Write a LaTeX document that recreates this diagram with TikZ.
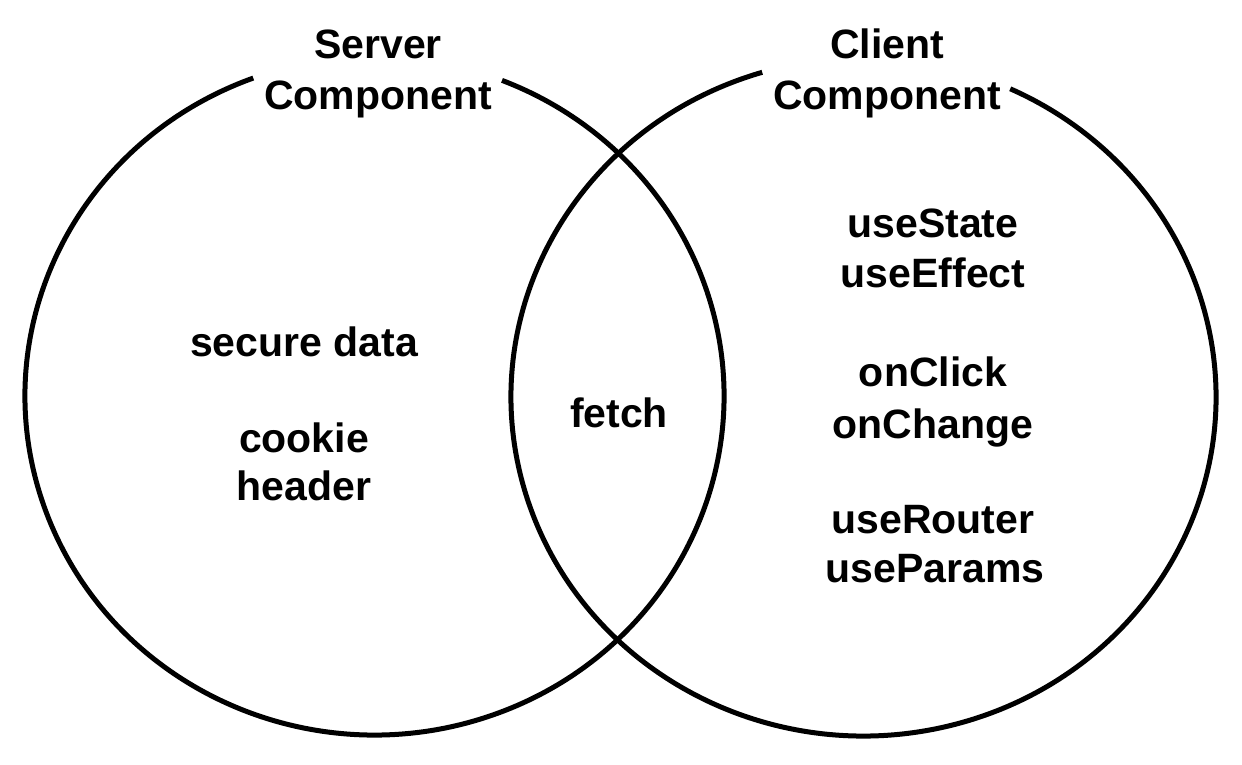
\documentclass[tikz,border=0pt]{standalone}
\usepackage{fontspec}
\setmainfont{Liberation Sans}
\begin{document}
\begin{tikzpicture}[x=1pt,y=1pt,
  setline/.style={line width=5pt, black},
  lbl/.style={anchor=base, inner sep=0pt, font=\fontsize{41}{49}\selectfont\bfseries}]
\useasboundingbox (0,0) rectangle (1242,764);

% server set (left), open at the top for its title
\draw[setline] (374.5,368) ++(110.3:349.5 and 339)
  arc[start angle=110.3, end angle=428.6, x radius=349.5, y radius=339];
% client set (right), open at the top for its title
\draw[setline] (863.5,367) ++(106.7:352.5 and 339)
  arc[start angle=106.7, end angle=425.4, x radius=352.5, y radius=339];

% titles
\node[lbl] (srv1) at (378,705) {Server};
\node[lbl] (srv2) at (378,654) {Component};
\node[lbl] (cli1) at (887,705) {Client};
\node[lbl] (cli2) at (887,654) {Component};

% server only
\node[lbl] (secure) at (304,407) {secure data};
\node[lbl] (cookie) at (304,312) {cookie};
\node[lbl] (header) at (304,264) {header};

% shared
\node[lbl] (fetch) at (619,336) {fetch};

% client only
\node[lbl] (ustate)  at (933,526) {useState};
\node[lbl] (ueffect) at (933,476) {useEffect};
\node[lbl] (onclick) at (933,377) {onClick};
\node[lbl] (onchange) at (933,326) {onChange};
\node[lbl] (urouter) at (933,231) {useRouter};
\node[lbl] (uparams) at (935,182) {useParams};
\end{tikzpicture}
\end{document}
